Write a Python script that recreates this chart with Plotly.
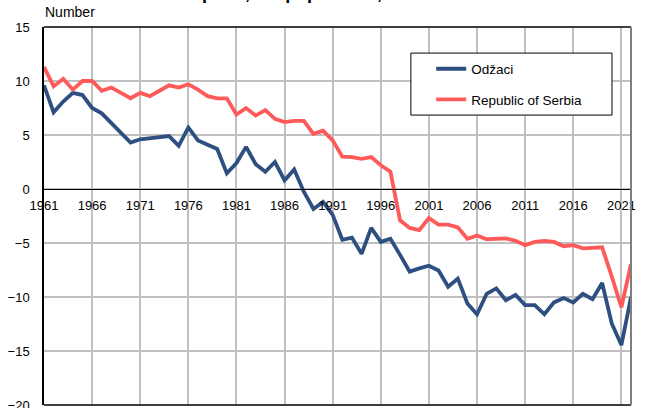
import plotly.graph_objects as go

years = list(range(1961, 2023))
odzaci = [9.6, 7.1, 8.1, 8.9, 8.7, 7.5, 7.0, 6.1, 5.2, 4.3,
          4.6, 4.7, 4.8, 4.9, 4.0, 5.7, 4.5, 4.1, 3.7, 1.45,
          2.4, 3.9, 2.3, 1.6, 2.5, 0.8, 1.8, -0.25, -1.85, -1.2,
          -2.4, -4.7, -4.5, -6.0, -3.6, -4.9, -4.6, -6.1, -7.65, -7.35,
          -7.1, -7.55, -9.05, -8.3, -10.6, -11.6, -9.7, -9.2, -10.3, -9.8,
          -10.75, -10.75, -11.6, -10.5, -10.1, -10.5, -9.7, -10.2, -8.7, -12.45,
          -14.45, -10.0]
serbia = [11.3, 9.5, 10.2, 9.2, 10.0, 10.0, 9.1, 9.4, 8.9, 8.4,
          8.9, 8.6, 9.1, 9.6, 9.4, 9.7, 9.2, 8.6, 8.4, 8.4,
          6.9, 7.5, 6.8, 7.3, 6.5, 6.2, 6.3, 6.3, 5.1, 5.4,
          4.5, 3.0, 2.95, 2.8, 2.95, 2.2, 1.6, -2.9, -3.6, -3.8,
          -2.7, -3.3, -3.3, -3.55, -4.6, -4.3, -4.65, -4.57, -4.57, -4.8,
          -5.2, -4.9, -4.8, -4.9, -5.3, -5.2, -5.5, -5.45, -5.4, -8.1,
          -10.95, -6.95]
x_ticks = list(range(1961, 2022, 5))
y_ticks = [-20, -15, -10, -5, 0, 5, 10, 15]

FONT = "Liberation Sans, Arial, sans-serif"
BLUE = "#2E5080"
RED = "#FF5A5A"

fig = go.Figure()
fig.add_trace(go.Scatter(x=years, y=odzaci, mode="lines", name="Odžaci",
                         legendgroup="a",
                         line=dict(color=BLUE, width=3.8)))
fig.add_trace(go.Scatter(x=years, y=serbia, mode="lines", name="Republic of Serbia",
                         legendgroup="b",
                         line=dict(color=RED, width=3.8)))

fig.update_layout(
    width=645, height=408,
    margin=dict(l=44, r=14, t=27, b=3, autoexpand=False),
    paper_bgcolor="white", plot_bgcolor="white",
    font=dict(family=FONT, size=13, color="black"),
    showlegend=True,
    legend=dict(x=0.6596, y=0.93, xanchor="left", yanchor="top",
                bgcolor="rgba(0,0,0,0)", borderwidth=0,
                font=dict(size=13.5), tracegroupgap=10,
                traceorder="grouped"),
    xaxis=dict(range=[1961, 2022], tickvals=x_ticks, automargin=False,
               showgrid=True, gridcolor="#C0C0C0", gridwidth=1.5,
               anchor="free", position=20/35,
               showline=True, linecolor="black", linewidth=1,
               ticks="", ticklabelstandoff=4, zeroline=False,
               ticklabeloverflow="allow",
               tickfont=dict(size=13)),
    yaxis=dict(range=[-20, 15], tickvals=y_ticks, automargin=False,
               showgrid=True, gridcolor="#C0C0C0", gridwidth=1.5,
               showline=True, linecolor="black", linewidth=1.5,
               ticks="", ticklabelstandoff=10, zeroline=False,
               ticklabeloverflow="allow",
               tickfont=dict(size=13)),
    shapes=[
        dict(type="rect", xref="paper", yref="paper", x0=0.625, x1=0.9676,
             y0=0.767, y1=0.931, line=dict(color="black", width=1),
             fillcolor="white", layer="above"),
        dict(type="line", xref="paper", yref="paper", x0=0, x1=1, y0=1, y1=1,
             line=dict(color="black", width=1.5)),
        dict(type="line", xref="paper", yref="paper", x0=0, x1=1, y0=0, y1=0,
             line=dict(color="black", width=1.5)),
        dict(type="line", xref="paper", yref="paper", x0=1, x1=1, y0=0, y1=1,
             line=dict(color="#7F7F7F", width=2)),
    ],
    annotations=[
        dict(text="Number", xref="paper", yref="paper", x=-0.002, y=1.0384,
             xanchor="left", yanchor="middle", showarrow=False,
             font=dict(size=14)),
        dict(text="<b>Natural increase per 1,000 population, 1961–2022</b>",
             xref="paper", yref="paper", x=0.0187, y=1.058,
             xanchor="left", yanchor="bottom", showarrow=False,
             font=dict(size=18)),
    ],
)

fig.write_html("out.html", config={"displayModeBar": False},
               post_script="document.body.style.margin='0';document.body.style.overflow='hidden';")
